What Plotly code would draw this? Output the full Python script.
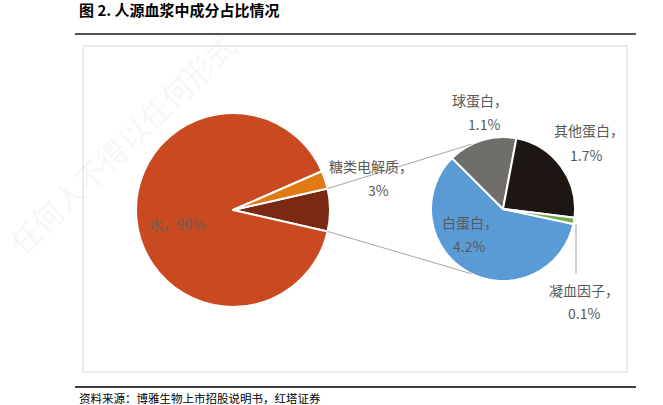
import math
import plotly.graph_objects as go

# ---- data ----
main_labels = ["蛋白质", "水", "糖类电解质"]
water_value = 90
sugar_value = 3
sub_labels = ["白蛋白", "球蛋白", "其他蛋白", "凝血因子"]
sub_values = [4.2, 1.1, 1.7, 0.1]
protein_value = round(sum(sub_values), 1)
main_values = [protein_value, water_value, sugar_value]

main_colors = ["#7A2A13", "#C94A20", "#E07A12"]
sub_colors = ["#5B9BD5", "#706E6A", "#1D1613", "#70AD47"]

W, H = 663, 405

def px(x):
    return x / W

def py(y):
    return 1 - y / H

# pie geometry (pixels)
main_c = (233, 210)
main_r = 97
sub_c = (503, 209)
sub_r = 72

total_main = sum(main_values)
protein_angle = protein_value / total_main * 360
main_rotation = 90 - protein_angle / 2
sub_rotation = 102

fig = go.Figure()
fig.add_trace(go.Pie(
    labels=main_labels, values=main_values, sort=False, direction="clockwise",
    rotation=main_rotation, marker=dict(colors=main_colors, line=dict(color="white", width=2)),
    textinfo="none", hoverinfo="label+value", showlegend=False,
    domain=dict(x=[px(main_c[0] - main_r), px(main_c[0] + main_r)],
                y=[py(main_c[1] + main_r), py(main_c[1] - main_r)]),
))
fig.add_trace(go.Pie(
    labels=sub_labels, values=sub_values, sort=False, direction="clockwise",
    rotation=sub_rotation, marker=dict(colors=sub_colors, line=dict(color="white", width=2)),
    textinfo="none", hoverinfo="label+value", showlegend=False,
    domain=dict(x=[px(sub_c[0] - sub_r), px(sub_c[0] + sub_r)],
                y=[py(sub_c[1] + sub_r), py(sub_c[1] - sub_r)]),
))

shapes = []
# connector lines between the protein slice and the secondary pie
half = math.radians(protein_angle / 2)
for sgn in (1, -1):
    x0 = main_c[0] + main_r * math.cos(half)
    y0 = main_c[1] - sgn * main_r * math.sin(half)
    a = math.radians(116)
    x1 = sub_c[0] + sub_r * math.cos(a)
    y1 = sub_c[1] - sgn * sub_r * math.sin(a)
    shapes.append(dict(type="line", xref="paper", yref="paper",
                       x0=px(x0), y0=py(y0), x1=px(x1), y1=py(y1),
                       line=dict(color="#A6A6A6", width=1)))
# leader line for 凝血因子
shapes.append(dict(type="line", xref="paper", yref="paper",
                   x0=px(576), y0=py(224), x1=px(576), y1=py(274),
                   line=dict(color="#A6A6A6", width=1)))
# chart frame
shapes.append(dict(type="rect", xref="paper", yref="paper",
                   x0=px(83), y0=py(372), x1=px(627), y1=py(46),
                   line=dict(color="#D9D9D9", width=1), layer="below"))
# title rule and footer rule
shapes.append(dict(type="line", xref="paper", yref="paper",
                   x0=px(75), y0=py(34), x1=px(636), y1=py(34),
                   line=dict(color="#1a1a1a", width=1.3)))
shapes.append(dict(type="line", xref="paper", yref="paper",
                   x0=px(75), y0=py(387), x1=px(636), y1=py(387),
                   line=dict(color="#404040", width=1.8)))

lab_font = dict(family="Noto Sans CJK SC, Liberation Sans", size=14, color="#595959")
annotations = []

def lab(text, x, y, color="#595959"):
    annotations.append(dict(text=text, x=px(x), y=py(y), xref="paper", yref="paper",
                            showarrow=False, xanchor="center", yanchor="middle",
                            font=dict(lab_font, color=color)))

lab(f"水，{water_value}%", 177, 224, "#6b5e58")
lab("糖类电解质，", 371, 166)
lab(f"{sugar_value}%", 378, 190)
lab(f"{sub_labels[1]}，", 480, 100)
lab(f"{sub_values[1]}%", 484, 124)
lab(f"{sub_labels[2]}，", 589, 130)
lab(f"{sub_values[2]}%", 586, 155)
lab(f"{sub_labels[0]}，", 470, 222)
lab(f"{sub_values[0]}%", 469, 246)
lab(f"{sub_labels[3]}，", 584, 290)
lab(f"{sub_values[3]}%", 584, 313)

# title
annotations.append(dict(text="<b>图 2. 人源血浆中成分占比情况</b>", x=px(77), y=py(9),
                        xref="paper", yref="paper", showarrow=False,
                        xanchor="left", yanchor="middle",
                        font=dict(family="Noto Sans CJK SC", size=15, color="#000000")))
# source
annotations.append(dict(text="资料来源：博雅生物上市招股说明书，红塔证券", x=px(77), y=py(398),
                        xref="paper", yref="paper", showarrow=False,
                        xanchor="left", yanchor="middle",
                        font=dict(family="Noto Sans CJK SC", size=11.5, color="#000000")))
# watermark
annotations.append(dict(text="任何人不得以任何形式", x=px(122), y=py(143),
                        xref="paper", yref="paper", showarrow=False, textangle=-44,
                        xanchor="center", yanchor="middle",
                        font=dict(family="Noto Sans CJK SC", size=30, color="rgba(190,190,190,0.15)")))

fig.update_layout(width=W, height=H, margin=dict(l=0, r=0, t=0, b=0),
                  paper_bgcolor="white", plot_bgcolor="white",
                  shapes=shapes, annotations=annotations)

fig.write_html("out.html", config={"displayModeBar": False},
               post_script="document.body.style.margin='0';")
